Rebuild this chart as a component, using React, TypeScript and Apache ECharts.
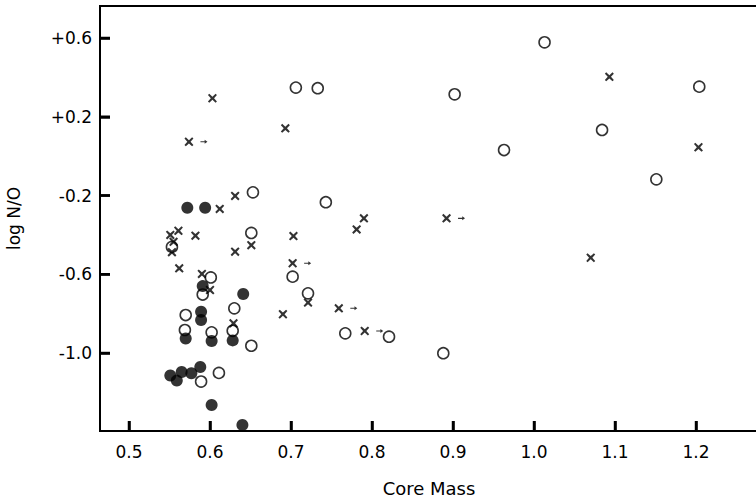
import React, { useEffect, useRef } from "react";
import * as echarts from "echarts";

// Open circles [core mass, log N/O]
const openCircles: number[][] = [
  [1.013, 0.578], [0.706, 0.348], [0.733, 0.345], [0.902, 0.314], [1.204, 0.353],
  [1.084, 0.133], [0.963, 0.031], [1.151, -0.118], [0.653, -0.184], [0.743, -0.234],
  [0.651, -0.39], [0.553, -0.461], [0.601, -0.616], [0.702, -0.612], [0.721, -0.697],
  [0.591, -0.703], [0.63, -0.773], [0.57, -0.807], [0.569, -0.883], [0.602, -0.895],
  [0.628, -0.887], [0.651, -0.963], [0.767, -0.9], [0.821, -0.917], [0.888, -1.001],
  [0.589, -1.145], [0.611, -1.101],
];

// Filled circles
const filledCircles: number[][] = [
  [0.572, -0.262], [0.594, -0.262], [0.591, -0.66], [0.641, -0.7], [0.589, -0.79],
  [0.589, -0.832], [0.57, -0.926], [0.602, -0.939], [0.628, -0.936], [0.551, -1.114],
  [0.559, -1.14], [0.565, -1.096], [0.577, -1.103], [0.588, -1.071], [0.602, -1.264],
  [0.64, -1.365],
];

// Crosses
const crosses: number[][] = [
  [0.603, 0.294], [0.693, 0.141], [0.574, 0.073], [1.093, 0.403], [1.203, 0.045],
  [0.631, -0.202], [0.612, -0.268], [0.551, -0.4], [0.561, -0.379], [0.582, -0.404],
  [0.555, -0.435], [0.553, -0.488], [0.651, -0.452], [0.631, -0.485], [0.562, -0.57],
  [0.59, -0.598], [0.6, -0.68], [0.629, -0.849], [0.703, -0.406], [0.702, -0.544],
  [0.721, -0.744], [0.69, -0.803], [0.759, -0.773], [0.791, -0.888], [0.79, -0.316],
  [0.781, -0.372], [0.892, -0.316], [1.07, -0.516],
];

// Crosses that carry a small arrow (lower limits)
const arrowCrossIndex: number[] = [2, 19, 22, 23, 26];

const xTicks: number[] = [0.5, 0.6, 0.7, 0.8, 0.9, 1.0, 1.1, 1.2];
const yTicks: number[] = [0.6, 0.2, -0.2, -0.6, -1.0];

const X_MIN = 0.4642;
const X_MAX = 1.2765;
const Y_MIN = -1.396;
const Y_MAX = 0.7625;

const FONT = "'DejaVu Sans', 'Liberation Sans', sans-serif";
const INK = "#000";
const TICK_LEN = 10;
const TICK_W = 2.5;

const crossPath =
  "path://M1.5,0 L5,3.2 L8.5,0 L10,1.5 L6.8,5 L10,8.5 L8.5,10 L5,6.8 L1.5,10 L0,8.5 L3.2,5 L0,1.5 Z";
const arrowPath = "path://M0,4.2 L6,4.2 L6,2 L10,5 L6,8 L6,5.8 L0,5.8 Z";

export default function App() {
  const ref = useRef<HTMLDivElement>(null);

  useEffect(() => {
    if (!ref.current) return;
    const chart = echarts.init(ref.current, null, { renderer: "svg" });
    const labelStyle = { color: INK, fontFamily: FONT, fontSize: 17 };
    chart.setOption({
      animation: false,
      grid: {
        left: 100,
        right: -2,
        top: 6,
        bottom: 69,
        show: true,
        borderColor: INK,
        borderWidth: 2,
        backgroundColor: "rgba(0,0,0,0)",
        outerBoundsMode: "none",
      },
      xAxis: {
        type: "value",
        min: X_MIN,
        max: X_MAX,
        name: "Core Mass",
        nameLocation: "middle",
        nameGap: 48,
        nameTextStyle: { ...labelStyle, fontSize: 18 },
        axisLine: { show: true, onZero: false, lineStyle: { color: INK, width: 2 } },
        axisTick: {
          show: true,
          inside: true,
          length: TICK_LEN,
          customValues: xTicks,
          lineStyle: { color: INK, width: TICK_W },
        },
        axisLabel: {
          ...labelStyle,
          margin: 12,
          customValues: xTicks,
          formatter: (v: number) => v.toFixed(1),
        },
        splitLine: { show: false },
      },
      yAxis: {
        type: "value",
        min: Y_MIN,
        max: Y_MAX,
        name: "log N/O",
        nameLocation: "middle",
        nameGap: 78,
        nameTextStyle: { ...labelStyle, fontSize: 17 },
        axisLine: { show: true, onZero: false, lineStyle: { color: INK, width: 2 } },
        axisTick: {
          show: true,
          inside: true,
          length: TICK_LEN,
          customValues: yTicks,
          lineStyle: { color: INK, width: TICK_W },
        },
        axisLabel: {
          ...labelStyle,
          margin: 8,
          customValues: yTicks,
          formatter: (v: number) => (v > 0 ? "+" : "-") + Math.abs(v).toFixed(1),
        },
        splitLine: { show: false },
      },
      series: [
        {
          name: "xticks",
          type: "custom",
          silent: true,
          clip: false,
          data: xTicks.map((t) => [t, 0]),
          renderItem: (params: any, api: any) => {
            const cs = params.coordSys;
            const px = api.coord([api.value(0), 0])[0];
            const base = cs.y + cs.height;
            return {
              type: "rect",
              shape: { x: px - TICK_W / 2, y: base - TICK_LEN, width: TICK_W, height: TICK_LEN },
              style: { fill: INK },
            };
          },
          z: 5,
        },
        {
          name: "yticks",
          type: "custom",
          silent: true,
          clip: false,
          data: yTicks.map((t) => [0.8, t]),
          renderItem: (params: any, api: any) => {
            const cs = params.coordSys;
            const py = api.coord([0.8, api.value(1)])[1];
            return {
              type: "rect",
              shape: { x: cs.x, y: py - TICK_W / 2, width: TICK_LEN, height: TICK_W },
              style: { fill: INK },
            };
          },
          z: 5,
        },
        {
          name: "open",
          type: "scatter",
          data: openCircles,
          symbol: "circle",
          symbolSize: 11,
          itemStyle: { color: "rgba(0,0,0,0)", borderColor: INK, borderWidth: 1.6 },
          z: 2,
        },
        {
          name: "filled",
          type: "scatter",
          data: filledCircles,
          symbol: "circle",
          symbolSize: 12,
          itemStyle: { color: INK },
          z: 3,
        },
        {
          name: "cross",
          type: "scatter",
          data: crosses,
          symbol: crossPath,
          symbolSize: 9,
          itemStyle: { color: INK },
          z: 4,
        },
        {
          name: "limit",
          type: "scatter",
          data: arrowCrossIndex.map((i) => crosses[i]),
          symbol: arrowPath,
          symbolSize: [7, 4],
          symbolOffset: [15, 0],
          itemStyle: { color: INK },
          z: 4,
        },
      ],
    });
    return () => chart.dispose();
  }, []);

  return (
    <div
      ref={ref}
      style={{ position: "fixed", left: 0, top: 0, width: 756, height: 500, background: "#fff" }}
    />
  );
}
